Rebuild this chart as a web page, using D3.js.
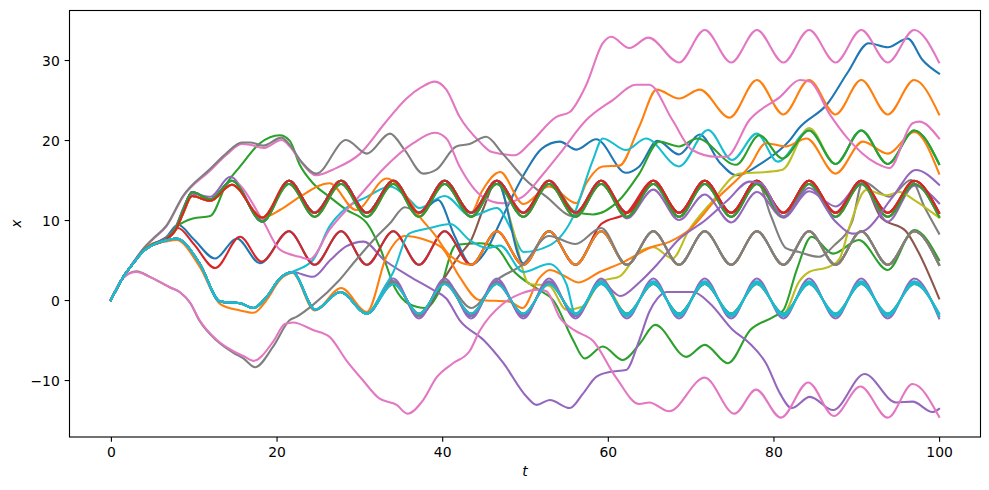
<!DOCTYPE html>
<html><head><meta charset="utf-8">
<script src="https://cdn.jsdelivr.net/npm/d3@7"></script>
<style>
body{margin:0;background:#fff}
svg{display:block}
text{font-family:"DejaVu Sans",sans-serif}
</style>
</head><body>
<svg id="chart" width="989" height="490"></svg>
<script>
// ---------------- data ----------------
const xTicks = [0, 20, 40, 60, 80, 100];
const yTicks = [-10, 0, 10, 20, 30];
const yTickLabels = ["\u221210", "0", "10", "20", "30"];
const tab10 = ["#1f77b4","#ff7f0e","#2ca02c","#d62728","#9467bd","#8c564b","#e377c2","#7f7f7f","#bcbd22","#17becf"];

// times of the late troughs / peaks shared by all settled orbits (even = trough, odd = peak)
const bandTimes = [12.1,15.2,18.3,21.5,24.6,27.8,30.9,34.1,37.2,40.3,43.5,46.6,49.8,52.9,56.1,59.2,62.3,65.5,68.6,71.7,74.9,78.0,81.2,84.3,87.5,90.6,93.8,97.0,100.0];
// [trough, peak] of each oscillation band
const bandA  = [-2.0, 2.3];
const bandA2 = [-1.7, 2.0];
const bandA3 = [-2.3, 2.7];
const bandB  = [4.4, 8.6];
const bandC  = [10.9, 14.9];
const bandC2 = [10.4, 14.5];
const bandD  = [17.0, 21.2];
const bandE  = [23.2, 27.5];
const bandF  = [29.7, 33.75];

// early parts of the trajectories [t, x]
const startU1 = [[0,0],[1.5,2.9],[2.7,4.6],[3.9,6.2],[5.1,7.0],[6.6,7.6],[7.9,9.2],[8.7,11.2],[9.8,13.5],[12,12.6],[14.6,14.9],[18.3,9.8]];
const startU2 = [[0,0],[1.5,2.9],[2.7,4.6],[3.9,6.1],[5.1,6.9],[6.6,7.5],[7.9,8.9],[8.7,10.8],[9.8,13.0],[12,12.4],[14.6,14.4],[18.3,10.3]];
const startL  = [[0,0],[1.5,2.9],[2.7,4.6],[3.9,6.1],[5.1,6.9],[6.5,7.4],[7.9,7.7],[10.7,4.6],[13.2,-0.2],[15.6,-0.4],[17.2,-1.0],[18.8,0.4],[20.4,2.7],[21.9,3.5]];
const intoA   = [[24.7,-1.2],[27.7,1.0],[30.9,-1.7]];
const startL2 = [[0,0],[1.5,2.9],[2.7,4.6],[3.9,6.2],[5.1,7.1],[6.5,7.3],[7.9,7.5],[10.7,4.2],[13.2,-0.5],[15.6,-1.3],[17.2,-1.6],[18.8,0.0],[20.4,2.5],[21.9,3.4]];
const startMb = [[0,0],[1.5,2.9],[2.7,4.6],[3.9,6.2],[5.1,7.0],[6.6,7.8],[8.1,9.4],[10,7.6],[12.6,5.2],[15.2,7.7],[18,4.6]];
const startMr = [[0,0],[1.5,2.9],[2.7,4.6],[3.9,6.2],[5.1,7.0],[6.6,7.7],[8.1,9.0],[10,7.0],[12.6,4.0],[15.6,7.9],[18.2,4.8]];
const startTp = [[0,0],[1.5,2.9],[2.7,4.7],[3.9,6.4],[5.1,7.6],[6.7,9.2],[8.7,12.9],[12,16.2],[14,18.2],[15.8,19.5],[16.8,19.4],[18.4,19.0],[20.6,20.0]];
const startTg = [[0,0],[1.5,2.9],[2.7,4.7],[3.9,6.4],[5.1,7.7],[6.7,9.3],[8.7,13.0],[12,16.4],[14,18.4],[15.8,19.7],[16.8,19.7],[18.4,19.3],[20.6,20.3]];
const startBp = [[0,0],[1.5,2.8],[3.1,3.5],[4.7,2.9],[7.1,1.6],[8.3,1.0],[9.6,-0.4],[10.7,-2.5],[12.8,-5.0],[14.8,-6.4],[16,-7.0],[17.2,-7.6],[19.6,-5.2],[21,-3.0]];
const startBg = [[0,0],[1.5,2.8],[3.1,3.6],[4.7,2.9],[7.1,1.6],[8.3,1.0],[9.6,-0.4],[10.7,-2.6],[12.8,-5.1],[14.8,-6.6],[16,-7.3],[17.4,-8.4],[19.6,-5.8],[21.6,-2.5]];

// individual trajectories: point lists and band segments [band, from t, to t]
const blueTop = [startMb, ["B",21.5,40.3], [[43.5,4.4],[45.5,6.5],[46.9,9.5],[48.5,13.0],[50.1,16.1],[52,18.9],[54.2,19.8],[56.2,18.8],[58.6,20.1],[62.2,15.9],[63.8,16.7],[66,19.9],[68.6,18.2],[71.1,20.7],[73.5,17.2],[75.5,15.6],[78.7,17.2],[81.9,19.9],[83.1,21.5],[86.5,24.5],[89,28.5],[91.5,32.1],[93.8,31.6],[96.2,32.7],[98,30.0],[100,28.3]]];
const orangeE = [startU2, ["C",21.5,43.5], [[44.8,13.6],[47,16.0],[49.8,12.0],[52.9,14.2],[56.2,12.1],[57.4,14.6],[59.4,16.7],[61.4,16.8],[63.8,21.7],[65.9,26.3],[68.6,25.2],[71.1,26.3],[74.7,22.8]], ["E",78.0,100]];
const greenUp = [[[0,0],[1.5,2.9],[2.7,4.6],[3.9,6.1],[5.1,6.9],[6.6,7.5],[8,9.2],[9.9,10.2],[12,10.5],[14,14.6],[15.6,16.7],[18,19.6],[20.4,20.6],[21.6,19.9],[22.8,16.9],[24.4,14.6],[26.4,12.9],[28.4,11.3],[30.9,9.6],[32.5,6.5],[34.3,1.5],[36,-0.5],[38,-1.0],[39.5,0.8],[41.7,6.9],[44.5,7.1],[46.5,6.6],[48.5,3.75],[51.7,1.25],[53.4,0],[55.8,-5],[57.2,-7.3],[59.4,-5.8],[61.8,-7.5],[63.9,-5.4],[65.7,-3.1],[69.5,-7.1],[71.7,-5.6],[74.5,-7.9],[77.2,-3.75],[80,-2.1],[81.2,-1.25],[82.8,3.75],[84.6,7.9],[87.2,5.8],[90.3,7.5],[93.8,3.75],[97,8.75],[100,5.0]]];
const redC1 = [startU1, ["C",21.5,100]];
const purpleLow = [startL, [[24.4,2.9],[26.5,5.0],[28.4,6.7],[30.5,7.3],[33,5.0],[36,3.0],[39,1.2],[40.5,0.2],[42.1,-2.5],[45,-5],[47.4,-7.9],[50.2,-12.1],[51.4,-13.1],[53,-12.5],[55.4,-13.5],[57,-11.7],[58.6,-9.6],[60.2,-9.0],[62.2,-8.75],[63.8,-5.0],[65,-1.5],[66,0.2],[67.1,1.0],[70.3,1.0],[72.3,-0.4],[75.1,-3.75],[77.1,-5.4],[79.1,-7.9],[80.8,-11.7],[82.2,-13.5],[84.4,-12.1],[87.2,-13.75],[91,-9.25],[94.8,-12.8],[96.8,-12.7],[99.2,-14.0],[100,-13.6]]];
const brownDrop = [startL, intoA, ["A",34.1,37.2], [[40.3,2.8],[42,5.5],[43.5,7.5],[45,11.5]], ["C",46.6,90.6], [[93.0,10.3],[96.0,8.6],[97.5,6.0],[100,0.2]]];
const pinkTop = [startTp, [[21.6,19.2],[23,17.2],[24.8,15.6],[27,16.4],[30.1,18.3],[33,22.0],[35.7,25.2],[37.5,26.6],[39.1,27.3],[40.5,26.3],[42.1,22.9],[44.5,19.8],[46,18.5],[48.8,18.1],[50.6,19.6],[53.8,22.9],[55.4,23.5],[57.4,26.9],[59.4,32.1],[60.4,32.9],[62.6,31.5],[64.9,32.8]], ["F",68.6,100]];
const grayTop = [startTg, [[21.6,19.4],[23,17.3],[24.8,15.8],[28.4,20.0],[30.9,18.3],[33.7,20.8],[35.5,18.7],[37.7,15.8],[39.3,16.3],[41.7,19.2],[43.3,19.5],[45.3,20.4],[47.3,18.3],[50.1,15.0],[52.6,12.9],[55.8,10.5]], ["C",59.2,78.0], [[79.7,10.5],[81.5,6.5],[83.1,6.0],[85.5,5.4],[87.3,6.8],[89.5,9.8],[90.8,14.8],[94,12.9],[96.6,15.0],[98.3,11.5],[100,8.3]]];
const oliveD = [startL, intoA, ["A",34.1,59.2], [[61.5,3.0],[63.8,6.0],[65.5,6.6],[67.8,5.2],[69.8,8.75],[72.5,12.2],[75.9,15.8],[79.1,16.0],[81.1,16.3],[84.3,21.5]], ["D",87.5,100]];
const cyanD = [startL, [[24.4,5.0],[26.4,9.2],[28.4,11.5],[30.9,12.9],[33.7,14.2],[36,12.6],[37.2,11.5],[40.3,13.0],[43.5,10.5],[46.6,11.5],[48.5,8.5],[49.8,6.0],[52.9,6.8],[55.8,10.4],[58.2,17.5],[59.4,20.2],[62.2,18.75],[64.6,20.2],[68.6,16.7],[72.1,21.25],[75,17.5],[78,20.8],[80.5,17.3]], ["D",84.3,100]];
const blueB = [startU1, ["C",21.5,37.2], [[39.5,12.5],[41.5,8.0]], ["B",43.5,100]];
const orangeD = [startL2, [[24.6,-1.3],[27.8,1.5],[30.9,-1.5],[33.3,5.5],[35.5,8.0],[38,7.5],[40,6.5],[42.1,2.9],[44.5,0],[48.1,-0.2],[49.7,-1.0],[51.7,2.7],[53,3.75],[54.6,3.1],[56.5,2.2],[59,3.5],[62,4.8],[65,6.5],[67.5,7.3],[69.8,8.75],[73,12.5],[77.1,16.7],[79.1,19.6],[81.5,19.2],[84,20.2],[87.5,15.8],[90.8,19.8],[93.8,18.3],[97,21.0],[100,15.8]]];
const greenD = [startU2, ["C",21.5,52.9], [[56.1,11.0],[58.2,10.7],[61.4,12.5],[63.8,15.8],[66.2,19.8],[68.6,19.2],[70.8,20.2],[75.5,16.9],[78.3,20.6],[81.1,17.7]], ["D",84.3,100]];
const redB = [startMr, ["B",21.5,56.1], [[59.2,9.5]], ["C",62.3,100]];
const purpleC = [[[0,0],[1.5,2.9],[2.7,4.6],[3.9,6.2],[5.1,7.0],[6.6,7.7],[7.9,9.3],[8.7,11.4],[9.8,13.3],[12,12.9],[14.4,15.4],[18.3,10.0]], ["C",21.5,59.2], [[62.3,10.2],[65.5,13.8],[68.6,10.0],[71.7,13.2],[74.9,9.7],[78,13.5],[81.2,10.3],[84.3,13.6],[87.5,11.7],[90.6,14.6],[93.8,9.8],[97,14.3],[100,12.1]]];
const brownC = [startU2, ["C2",21.5,100]];
const pinkMid = [startU1, [[18.3,10.0],[20.4,6.3],[22.8,5.4],[24,5.1],[26.4,8.8],[30,13],[33,16.5],[36.5,19.6],[39.1,20.9],[40.5,20.2],[42.1,16.7],[44.9,12.9],[47.3,12.1],[49.7,12.9],[52,15.5],[54.2,18.3],[57.4,22.5],[60.6,25.0],[63.4,26.9],[65,26.9],[67.8,22.5],[70.2,18.75],[73.1,17.9],[74.3,17.9],[77.1,22.5],[80.8,25.4],[83.2,27.5],[84.4,27.3],[86.8,23.2],[88.8,20.4],[92.4,17.1],[94,16.5],[96.8,22.1],[97.6,22.3],[100,20.2]]];
const grayLow = [startBg, [[22.4,-2.1],[24.4,-0.6],[27.6,2.5],[29.6,5.0],[31.7,7.5],[33.7,9.6],[35.5,11.6],[37.2,11.0]], ["C2",40.3,100]];
const oliveC = [startU2, ["C",21.5,46.6], [[48.5,9.0],[50.5,2.0],[52.9,1.8],[55,-1.2],[57,-0.8],[59.2,2.6]], ["A2",62.3,81.2], [[83.1,2.3],[84.3,3.5],[86.8,4.2],[88,5.2],[89.2,9.2],[91.2,13.75],[93.6,13.1],[95.2,13.5],[97,12.5],[100,10.3]]];
const cyanA1 = [startL, intoA, ["A",34.1,100]];
const blueC = [startU1, ["C",21.5,46.6], [[49.8,4.6]], ["B",52.9,100]];
const orangeB = [startU2, [[18.3,10.3],[20.4,11.25],[22.8,12.9],[26.4,14.6],[29.6,11.25],[33.3,15.2],[35.7,12.9],[37.3,10.4],[39,8.3],[41,5.5],[43.5,4.4]], ["B",46.6,100]];
const greenC = [startU1, ["C2",21.5,100]];
const redC2 = [startU2, ["C",21.5,100]];
const purpleRise = [startL, intoA, ["A",34.1,59.2], [[61.5,0.5],[63.8,2.2],[66,4.5],[68.5,7.5],[71.8,10.0],[74.5,12.5],[77.1,14.8],[78.5,14.6],[81.2,10.4],[84.3,14.0],[87.5,9.8],[89.5,8.3],[91.2,8.8],[94.4,12.9],[97.2,16.25],[100,14.4]]];
const brownA = [startL, intoA, ["A2",34.1,100]];
const pinkLow = [startBp, [[22,-2.8],[24.4,-3.75],[26.4,-4.6],[28.4,-7.5],[30.4,-10.0],[32.4,-12.3],[34.5,-13.1],[35.8,-14.2],[37.7,-12.5],[39.3,-9.7],[41.3,-7.9],[43.3,-6.4],[44.5,-3.9],[47.3,-0.5],[49.5,0.8],[51.7,1.3],[52.6,1.1],[54.2,-2.2],[56,-3.8],[58.2,-5.1],[61,-9.7],[63.8,-13.0],[65,-12.8],[67.4,-13.9],[71.7,-9.7],[75.3,-14.2],[77.9,-11.2],[80.9,-14.7],[84.2,-10.3],[87.3,-14.5],[90.5,-10.8],[93.8,-14.7],[96.8,-10.5],[100,-14.6]]];
const grayB = [startL, intoA, ["A",34.1,40.3], [[43.5,-1.0],[46.6,2.5],[49.8,4.5],[52.9,8.0],[56.1,7.0],[59.2,9.0]], ["B",62.3,100]];
const purpleA = [startL, intoA, ["A3",34.1,100]];
const cyanA2 = [startL, intoA, [[33.0,1.5],[34.1,3.5],[36,8.3],[38.5,9.0],[41,9.5],[43.3,7.5],[45.5,6.5],[47,6.8],[49.8,3.5],[52.9,4.5],[55,2.0],[56.1,-1.8]], ["A",59.2,100]];
const cyanA3 = [startL, intoA, ["A2",34.1,100]];

// drawing order and colour index
const seriesList = [
  [blueTop,0],[orangeE,1],[greenUp,2],[redC1,3],[purpleLow,4],[brownDrop,5],[pinkTop,6],[grayTop,7],[oliveD,8],[cyanD,9],
  [blueB,0],[orangeD,1],[greenD,2],[redB,3],[purpleC,4],[brownC,5],[pinkMid,6],[grayLow,7],[oliveC,8],[cyanA1,9],
  [blueC,0],[orangeB,1],[greenC,2],[redC2,3],[purpleRise,4],[brownA,5],[pinkLow,6],[grayB,7],[purpleA,4],[cyanA2,9],[cyanA3,9]
];

// ---------------- build ----------------
const bandLookup = {A:bandA, A2:bandA2, A3:bandA3, B:bandB, C:bandC, C2:bandC2, D:bandD, E:bandE, F:bandF};
function build(segs){
  let pts = [];
  segs.forEach(s => {
    if (typeof s[0] === "string") {
      const lv = bandLookup[s[0]];
      bandTimes.forEach((t,i) => { if (t >= s[1]-1e-6 && t <= s[2]+1e-6) pts.push([t, lv[i%2]]); });
    } else {
      pts = pts.concat(s);
    }
  });
  pts.sort((a,b) => a[0]-b[0]);
  const out = [];
  pts.forEach(p => {
    if (out.length && Math.abs(out[out.length-1][0]-p[0]) < 0.05) out[out.length-1] = p;
    else out.push(p);
  });
  return out;
}

// ---------------- draw ----------------
const svg = d3.select("#chart");
const L = 69.5, R = 980.5, T = 10.5, B = 437;
svg.append("rect").attr("width",989).attr("height",490).attr("fill","#fff");

const x = d3.scaleLinear().domain([-5,105]).range([L,R]);
const y = d3.scaleLinear().domain([-17.12,36.19]).range([B,T]);

svg.append("clipPath").attr("id","clip").append("rect")
  .attr("x",L).attr("y",T).attr("width",R-L).attr("height",B-T);

const line = d3.line().x(d=>x(d[0])).y(d=>y(d[1])).curve(d3.curveMonotoneX);
const g = svg.append("g").attr("clip-path","url(#clip)");
seriesList.forEach(([segs,ci]) => {
  g.append("path").attr("d", line(build(segs)))
    .attr("fill","none").attr("stroke",tab10[ci])
    .attr("stroke-width",2.08).attr("stroke-linejoin","round").attr("stroke-linecap","square");
});

// axes
const xAxis = d3.axisBottom(x).tickValues(xTicks).tickSize(4.86).tickSizeOuter(0).tickPadding(5.5);
const gx = svg.append("g").attr("transform",`translate(0,${B})`).call(xAxis);
const yAxis = d3.axisLeft(y).tickValues(yTicks).tickFormat((d,i)=>yTickLabels[i]).tickSize(4.86).tickSizeOuter(0).tickPadding(4.85);
const gy = svg.append("g").attr("transform",`translate(${L},0)`).call(yAxis);
[gx,gy].forEach(ax => {
  ax.select(".domain").remove();
  ax.selectAll(".tick line").attr("stroke","#000").attr("stroke-width",1.11);
  ax.selectAll(".tick text").attr("fill","#000").style("font-size","13.9px").style("font-family","DejaVu Sans, sans-serif");
});
gy.selectAll(".tick text").attr("dy","0.38em");

svg.append("rect").attr("x",L).attr("y",T).attr("width",R-L).attr("height",B-T)
  .attr("fill","none").attr("stroke","#000").attr("stroke-width",1.11);

svg.append("text").attr("x",(L+R)/2).attr("y",476).attr("text-anchor","middle")
  .style("font-size","13.9px").style("font-style","italic").text("t");
svg.append("text").attr("transform",`translate(21,${(T+B)/2}) rotate(-90)`).attr("text-anchor","middle")
  .style("font-size","13.9px").style("font-style","italic").text("x");
</script>
</body></html>
